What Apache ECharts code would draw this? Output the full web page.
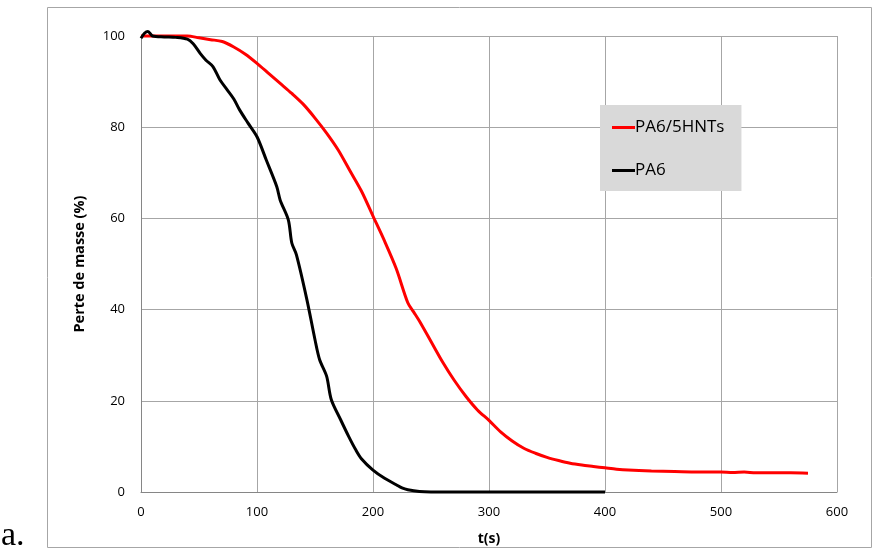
<!DOCTYPE html>
<html><head><meta charset="utf-8">
<script src="https://cdn.jsdelivr.net/npm/echarts@6/dist/echarts.min.js"></script>
<style>html,body{margin:0;padding:0;background:#fff}#c{width:873px;height:555px}</style>
</head><body><div id="c"></div>
<script>
const seriesNames = ['PA6/5HNTs', 'PA6'];
const xTicks = [0, 100, 200, 300, 400, 500, 600];
const yTicks = [0, 20, 40, 60, 80, 100];
const redT = [0,20,40,50,60,70,80,90,100,110,120,130,140,150,160,170,180,190,200,210,220,230,235,240,250,260,270,280,290,300,310,320,330,340,350,360,370,380,390,400,410,420,440,460,480,500,510,520,530,540,560,575];
const redV = [100,100,100,99.6,99.2,98.8,97.6,96,94,91.8,89.6,87.4,85,82,78.7,75,70.5,66,60.5,55,49,41.5,39.5,37.5,33,28.5,24.5,21,18,15.7,13.2,11.2,9.6,8.5,7.6,6.9,6.3,5.9,5.6,5.3,5,4.8,4.6,4.5,4.4,4.4,4.3,4.4,4.2,4.2,4.2,4.1];
const blackT = [0,3,6,10,20,30,40,45,51,56,62,68,74,80,85,92,100,108,117,120,127,130,134,143,150,154,160,164,172,179,185,190,200,210,220,225,230,240,250,300,350,400];
const blackV = [99.5,100.6,101,100,99.8,99.7,99.3,98.3,96.2,94.7,93.3,90.4,88.3,86.2,83.8,81,77.9,72.8,67,64,59.7,54.6,52,42.2,33.4,29,25.4,20.3,15.9,12.2,9.3,7.3,4.8,3,1.6,0.9,0.5,0.1,0,0,0,0];
const red = redT.map((t,i)=>[t, redV[i]]);
const black = blackT.map((t,i)=>[t, blackV[i]]);
const chart = echarts.init(document.getElementById('c'));
const labelFont = {fontFamily:'"Open Sans", sans-serif', fontSize:13, color:'#000'};
chart.setOption({
  animation:false,
  backgroundColor:'#fff',
  grid:{left:141, right:36, top:36, bottom:63},
  graphic:[
    {type:'rect', shape:{x:47.5, y:7.5, width:824, height:540}, style:{fill:null, stroke:'#a6a6a6', lineWidth:1}, silent:true},
    {type:'text', left:1, top:519, style:{text:'a.', font:'34px "Liberation Serif", serif', fill:'#000'}}
  ],
  legend:{
    data:seriesNames, orient:'vertical', left:600, top:105, width:141,
    backgroundColor:'#d9d9d9', borderWidth:0,
    padding:[14, 17, 12, 12], itemGap:26,
    icon:'rect', itemWidth:23, itemHeight:3,
    textStyle:{fontFamily:'"Open Sans", sans-serif', fontSize:17, color:'#000', padding:[0,0,0,-5]}
  },
  xAxis:{
    type:'value', min:0, max:600, interval:100,
    name:'t(s)', nameLocation:'middle', nameGap:40,
    nameTextStyle:{fontFamily:'"Open Sans", sans-serif', fontSize:14, fontWeight:'bold', color:'#000'},
    axisLine:{lineStyle:{color:'#868686', width:1}},
    axisTick:{show:false},
    axisLabel:Object.assign({margin:14}, labelFont),
    splitLine:{show:true, lineStyle:{color:'#a6a6a6', width:1}}
  },
  yAxis:{
    type:'value', min:0, max:100, interval:20,
    name:'Perte de masse (%)', nameLocation:'middle', nameGap:54, nameRotate:90,
    nameTextStyle:{fontFamily:'"Open Sans", sans-serif', fontSize:14.5, fontWeight:'bold', color:'#000'},
    axisLine:{show:true, lineStyle:{color:'#868686', width:1}},
    axisTick:{show:false},
    axisLabel:Object.assign({margin:16}, labelFont),
    splitLine:{show:true, lineStyle:{color:'#a6a6a6', width:1}}
  },
  series:[
    {name:seriesNames[0], type:'line', data:red, showSymbol:false, symbol:'none', smooth:0.3, clip:false, lineStyle:{color:'#ff0000', width:3}, itemStyle:{color:'#ff0000'}, z:3},
    {name:seriesNames[1], type:'line', data:black, showSymbol:false, symbol:'none', smooth:0.3, clip:false, lineStyle:{color:'#000', width:3}, itemStyle:{color:'#000'}, z:4}
  ]
});
</script></body></html>
